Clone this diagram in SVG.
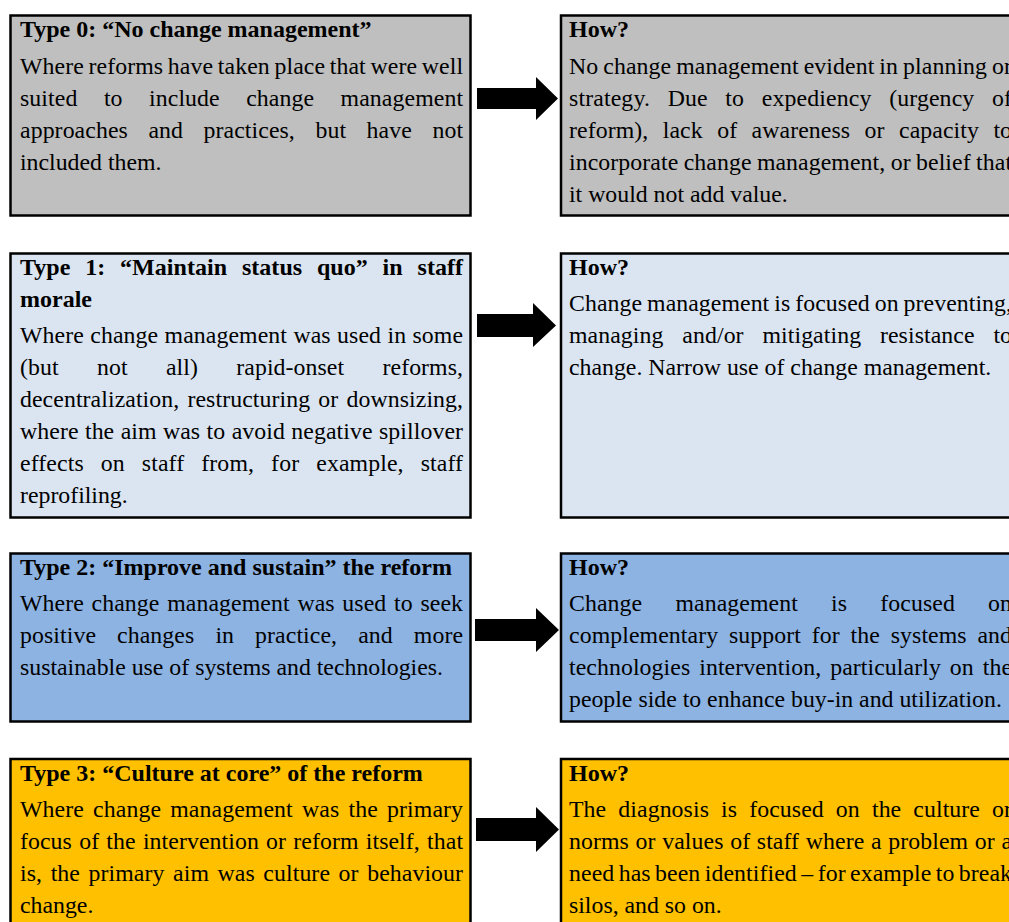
<svg xmlns="http://www.w3.org/2000/svg" width="1009" height="922" viewBox="0 0 1009 922">
<style>
.box{stroke:#000;stroke-width:2.5}
.g0{fill:#bfbfbf}.g1{fill:#dbe5f1}.g2{fill:#8db3e2}.g3{fill:#ffc000}
text{font-family:"Liberation Serif","Times New Roman",serif;font-size:23.8px;fill:#000}
.b{font-weight:bold;font-size:24px}
.arrow{fill:#000}
</style>
<rect width="1009" height="922" fill="#fff"/>

<g id="type0">
<rect class="box g0" x="10.5" y="15.5" width="460" height="200"/>
<text class="b" x="20" y="37">Type 0: “No change management”</text>
<text x="20" y="74" word-spacing="-1.36" textLength="443" lengthAdjust="spacing">Where reforms have taken place that were well</text>
<text x="20" y="106" word-spacing="20.43" textLength="443" lengthAdjust="spacing">suited to include change management</text>
<text x="20" y="138" word-spacing="14.48" textLength="443" lengthAdjust="spacing">approaches and practices, but have not</text>
<text x="20" y="170">included them.</text>
</g>
<g id="how0">
<rect class="box g0" x="561" y="15.5" width="460" height="200"/>
<text class="b" x="569" y="37">How?</text>
<text x="569" y="74" word-spacing="-1.05" textLength="443" lengthAdjust="spacing">No change management evident in planning or</text>
<text x="569" y="106" word-spacing="11.56" textLength="443" lengthAdjust="spacing">strategy. Due to expediency (urgency of</text>
<text x="569" y="138" word-spacing="8.42" textLength="443" lengthAdjust="spacing">reform), lack of awareness or capacity to</text>
<text x="569" y="170" word-spacing="-0.7" textLength="443" lengthAdjust="spacing">incorporate change management, or belief that</text>
<text x="569" y="202">it would not add value.</text>
</g>

<g id="type1">
<rect class="box g1" x="10.5" y="253.5" width="460" height="264"/>
<text class="b" x="20" y="275" word-spacing="8.72" textLength="443" lengthAdjust="spacing">Type 1: “Maintain status quo” in staff</text>
<text class="b" x="20" y="307">morale</text>
<text x="20" y="343" word-spacing="0.3" textLength="443" lengthAdjust="spacing">Where change management was used in some</text>
<text x="20" y="375" word-spacing="32.27" textLength="443" lengthAdjust="spacing">(but not all) rapid-onset reforms,</text>
<text x="20" y="407" word-spacing="2.13" textLength="443" lengthAdjust="spacing">decentralization, restructuring or downsizing,</text>
<text x="20" y="439" word-spacing="0.34" textLength="443" lengthAdjust="spacing">where the aim was to avoid negative spillover</text>
<text x="20" y="471" word-spacing="10.97" textLength="443" lengthAdjust="spacing">effects on staff from, for example, staff</text>
<text x="20" y="503">reprofiling.</text>
</g>
<g id="how1">
<rect class="box g1" x="561" y="253.5" width="460" height="264"/>
<text class="b" x="569" y="275">How?</text>
<text x="569" y="311" word-spacing="-1.05" textLength="443" lengthAdjust="spacing">Change management is focused on preventing,</text>
<text x="569" y="343" word-spacing="12.75" textLength="443" lengthAdjust="spacing">managing and/or mitigating resistance to</text>
<text x="569" y="375">change. Narrow use of change management.</text>
</g>

<g id="type2">
<rect class="box g2" x="10.5" y="553.5" width="460" height="168"/>
<text class="b" x="20" y="575">Type 2: “Improve and sustain” the reform</text>
<text x="20" y="611" word-spacing="1.63" textLength="443" lengthAdjust="spacing">Where change management was used to seek</text>
<text x="20" y="643" word-spacing="15.02" textLength="443" lengthAdjust="spacing">positive changes in practice, and more</text>
<text x="20" y="675">sustainable use of systems and technologies.</text>
</g>
<g id="how2">
<rect class="box g2" x="561" y="553.5" width="460" height="168"/>
<text class="b" x="569" y="575">How?</text>
<text x="569" y="611" word-spacing="27.1" textLength="443" lengthAdjust="spacing">Change management is focused on</text>
<text x="569" y="643" word-spacing="4.74" textLength="443" lengthAdjust="spacing">complementary support for the systems and</text>
<text x="569" y="675" word-spacing="2.93" textLength="443" lengthAdjust="spacing">technologies intervention, particularly on the</text>
<text x="569" y="707">people side to enhance buy-in and utilization.</text>
</g>

<g id="type3">
<rect class="box g3" x="10.5" y="759" width="460" height="200"/>
<text class="b" x="20" y="781">Type 3: “Culture at core” of the reform</text>
<text x="20" y="817" word-spacing="3.16" textLength="443" lengthAdjust="spacing">Where change management was the primary</text>
<text x="20" y="849" word-spacing="1.2" textLength="443" lengthAdjust="spacing">focus of the intervention or reform itself, that</text>
<text x="20" y="881" word-spacing="2.53" textLength="443" lengthAdjust="spacing">is, the primary aim was culture or behaviour</text>
<text x="20" y="913">change.</text>
</g>
<g id="how3">
<rect class="box g3" x="561" y="759" width="460" height="200"/>
<text class="b" x="569" y="781">How?</text>
<text x="569" y="817" word-spacing="6.06" textLength="443" lengthAdjust="spacing">The diagnosis is focused on the culture or</text>
<text x="569" y="849" word-spacing="0.57" textLength="443" lengthAdjust="spacing">norms or values of staff where a problem or a</text>
<text x="569" y="881" word-spacing="-1.61" textLength="443" lengthAdjust="spacing">need has been identified – for example to break</text>
<text x="569" y="913">silos, and so on.</text>
</g>

<g id="connectors">
<polygon class="arrow" points="477,88 536,88 536,77 558,98.5 536,120 536,109 477,109"/>
<polygon class="arrow" points="477,314 533,314 533,303 556,325.5 533,347 533,337 477,337"/>
<polygon class="arrow" points="475,619 536,619 536,608 559,630 536,652 536,641 475,641"/>
<polygon class="arrow" points="476,818 536,818 536,807 559,829.5 536,852 536,841 476,841"/>
</g>
</svg>
